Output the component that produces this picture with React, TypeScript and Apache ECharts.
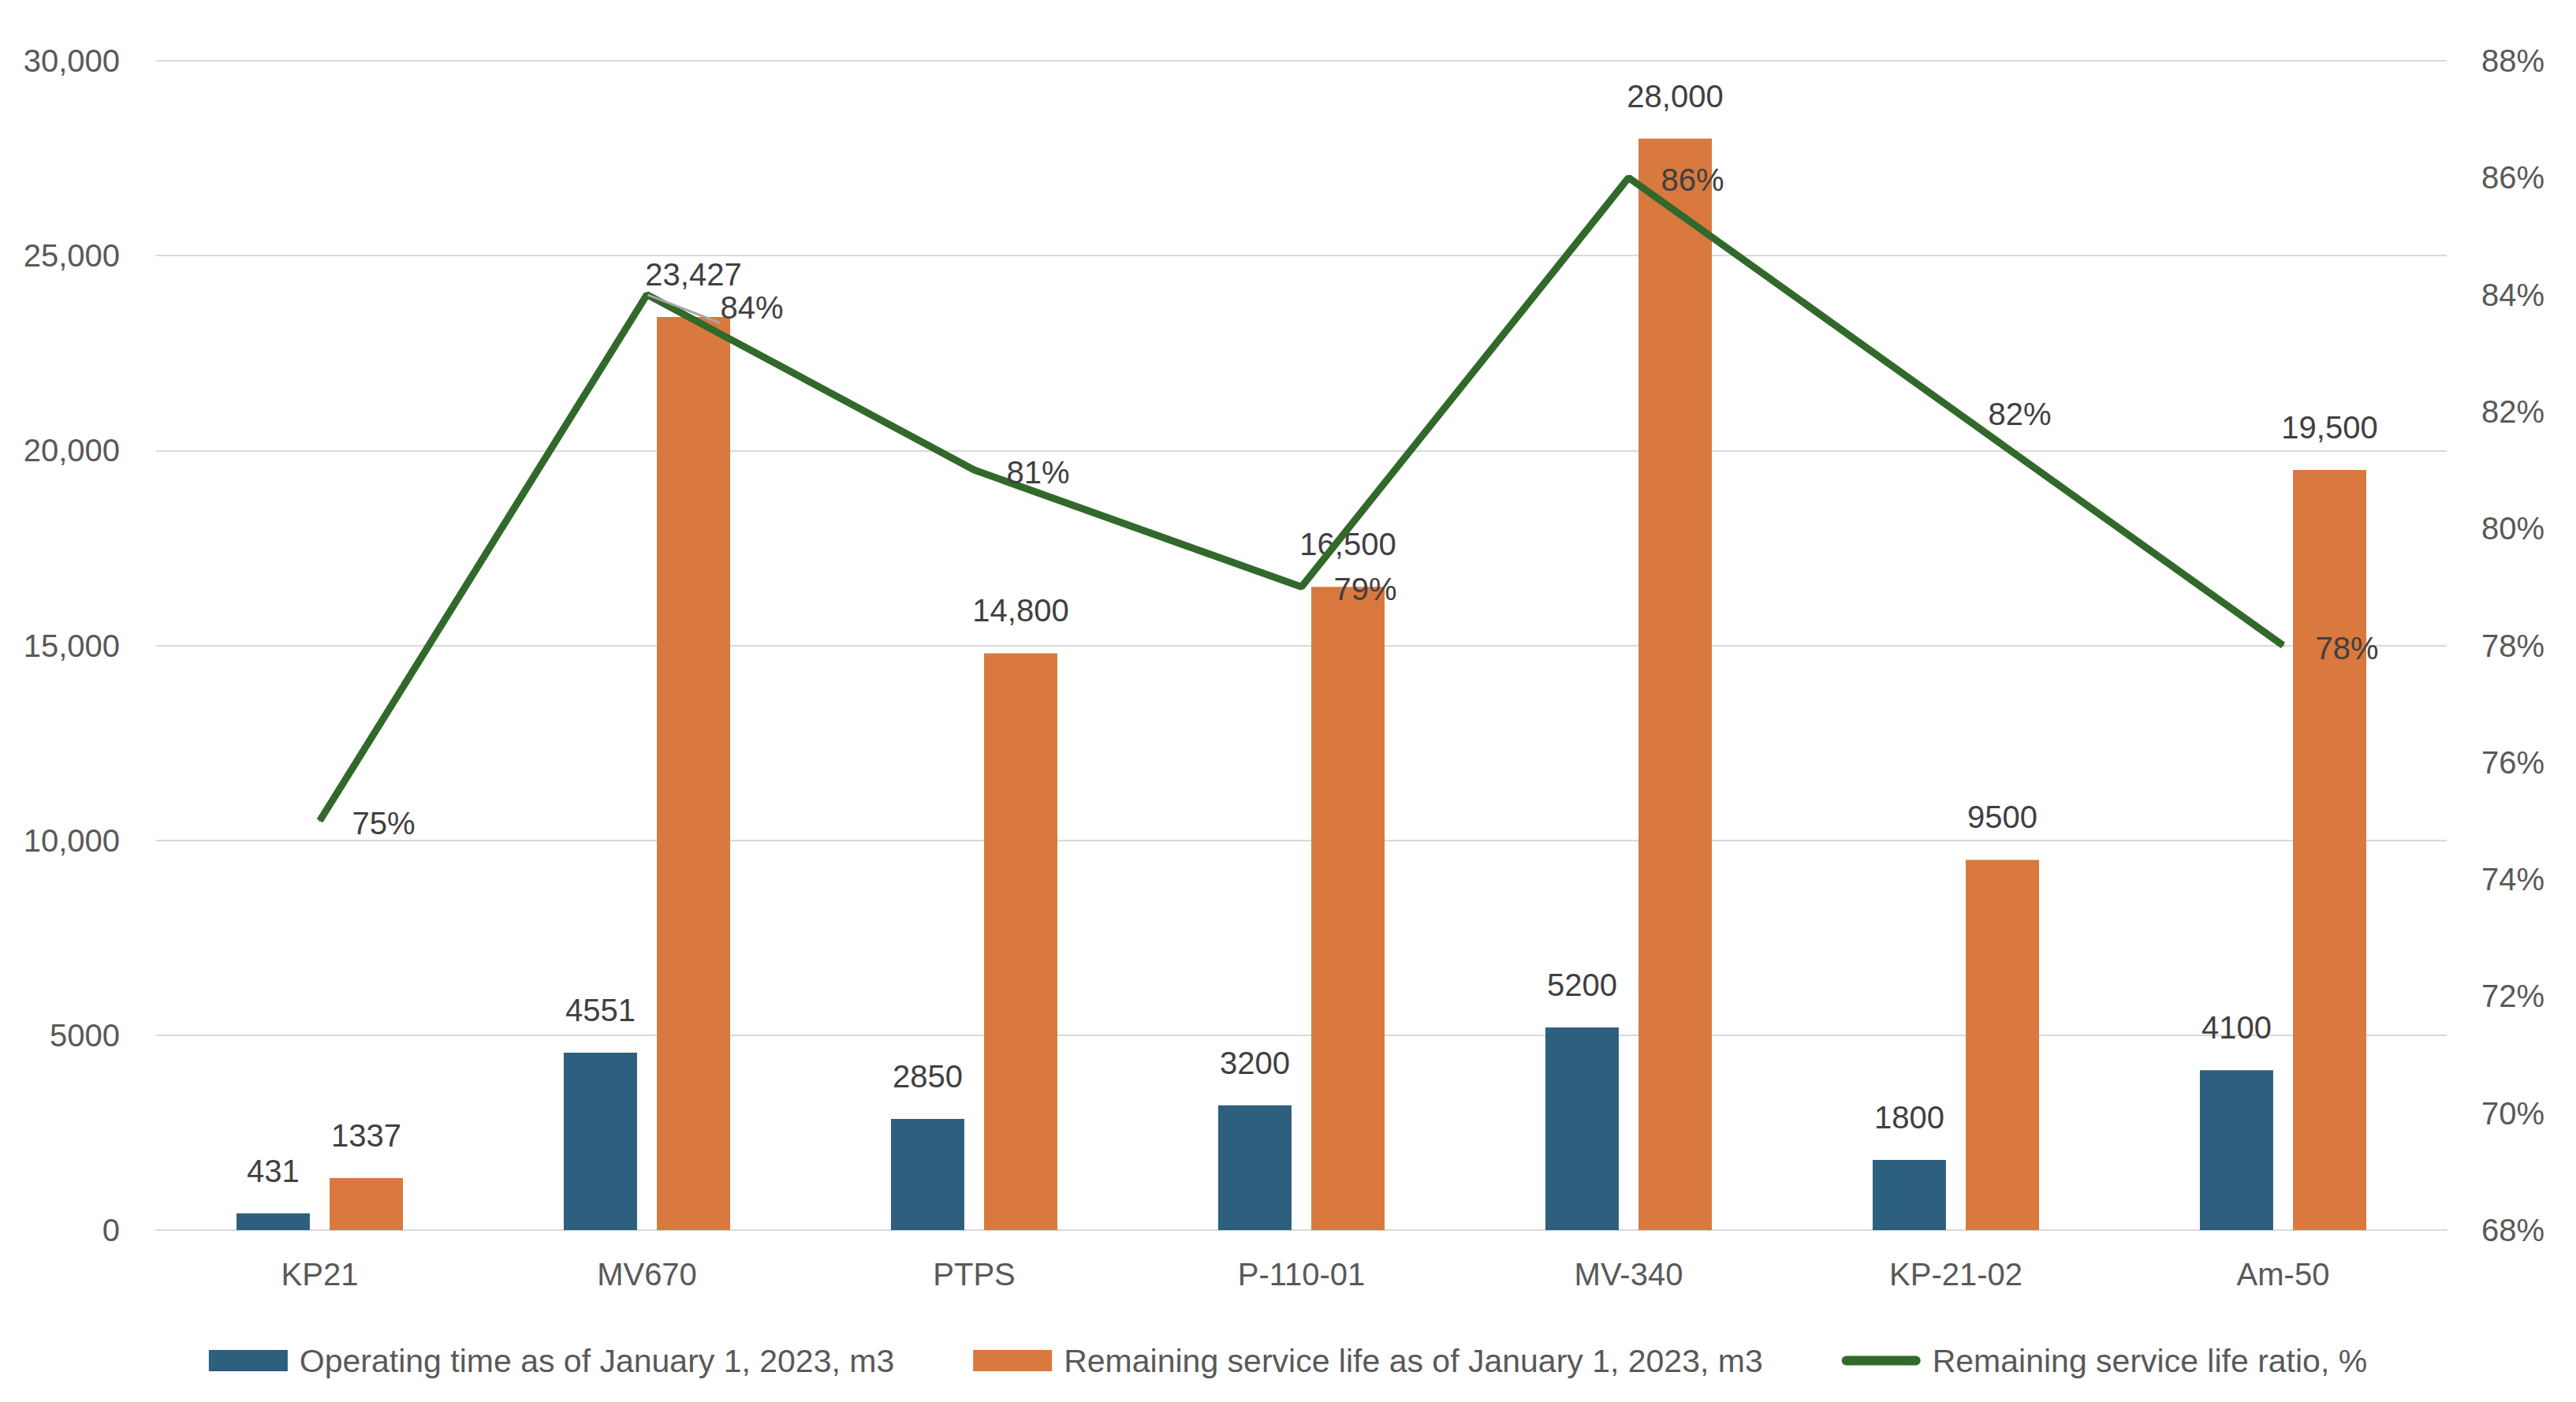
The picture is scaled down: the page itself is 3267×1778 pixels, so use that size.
import React, { useEffect, useRef } from "react";
import * as echarts from "echarts";

const categories = ["KP21", "MV670", "PTPS", "P-110-01", "MV-340", "KP-21-02", "Am-50"];
const operatingTime = [431, 4551, 2850, 3200, 5200, 1800, 4100];
const remainingLife = [1337, 23427, 14800, 16500, 28000, 9500, 19500];
const remainingRatio = [75, 84, 81, 79, 86, 82, 78];
const leftTickLabels = ["0", "5000", "10,000", "15,000", "20,000", "25,000", "30,000"];
const rightTickLabels = ["68%", "70%", "72%", "74%", "76%", "78%", "80%", "82%", "84%", "86%", "88%"];

const seriesNames = [
  "Operating time as of January 1, 2023, m3",
  "Remaining service life as of January 1, 2023, m3",
  "Remaining service life ratio, %",
];

const BLUE = "#2D5F7F";
const ORANGE = "#D9783F";
const GREEN = "#31692B";
const FONT = "'Liberation Sans', Arial, sans-serif";

const fmtNum = (v: number) => (v >= 10000 ? v.toLocaleString("en-US") : String(v));

export default function App() {
  const ref = useRef<HTMLDivElement>(null);
  useEffect(() => {
    if (!ref.current) return;
    const chart = echarts.init(ref.current, undefined, { renderer: "svg" });
    const barLabel = {
      show: true,
      position: "top",
      distance: 34,
      fontSize: 40,
      color: "#404040",
      fontFamily: FONT,
      formatter: (p: any) => fmtNum(p.value),
    };
    chart.setOption({
      animation: false,
      backgroundColor: "#ffffff",
      textStyle: { fontFamily: FONT },
      grid: { left: 198, right: 164, top: 77, bottom: 218, containLabel: false },
      legend: {
        top: 1700,
        left: "center",
        itemGap: 100,
        itemWidth: 100,
        itemHeight: 27,
        textStyle: { fontSize: 41, color: "#595959", fontFamily: FONT, padding: [0, 0, 0, 10] },
        data: [
          { name: seriesNames[0], icon: "rect" },
          { name: seriesNames[1], icon: "rect" },
          {
            name: seriesNames[2],
            icon: "path://M6,0 L94,0 A6,6 0 0 1 94,12 L6,12 A6,6 0 0 1 6,0 Z",
            itemStyle: { color: GREEN },
          },
        ],
      },
      xAxis: {
        type: "category",
        data: categories,
        axisLine: { show: true, lineStyle: { color: "#D9D9D9", width: 2 } },
        axisTick: { show: false },
        axisLabel: { fontSize: 40, color: "#595959", margin: 36, fontFamily: FONT },
      },
      yAxis: [
        {
          type: "value",
          min: 0,
          max: 30000,
          interval: 5000,
          axisLine: { show: false },
          axisTick: { show: false },
          splitLine: { lineStyle: { color: "#D9D9D9", width: 2 } },
          axisLabel: {
            fontSize: 40,
            color: "#595959",
            margin: 46,
            fontFamily: FONT,
            formatter: (v: number) => leftTickLabels[Math.round(v / 5000)],
          },
        },
        {
          type: "value",
          min: 68,
          max: 88,
          interval: 2,
          axisLine: { show: false },
          axisTick: { show: false },
          splitLine: { show: false },
          axisLabel: {
            fontSize: 40,
            color: "#595959",
            margin: 44,
            fontFamily: FONT,
            formatter: (v: number) => rightTickLabels[Math.round((v - 68) / 2)],
          },
        },
      ],
      series: [
        {
          name: seriesNames[0],
          type: "bar",
          data: operatingTime,
          barWidth: "22.4%",
          barGap: "27%",
          itemStyle: { color: BLUE },
          label: barLabel,
        },
        {
          name: seriesNames[1],
          type: "bar",
          data: remainingLife,
          barWidth: "22.4%",
          barGap: "27%",
          itemStyle: { color: ORANGE },
          label: barLabel,
        },
        {
          name: seriesNames[2],
          type: "line",
          yAxisIndex: 1,
          z: 5,
          data: remainingRatio.map((v, i) =>
            i === 1
              ? {
                  value: v,
                  label: { offset: [52, 16] },
                  labelLine: { show: true, lineStyle: { color: "#A6A6A6", width: 3 } },
                }
              : v
          ),
          symbol: "circle",
          symbolSize: 2,
          lineStyle: { color: GREEN, width: 9 },
          itemStyle: { color: GREEN },
          label: {
            show: true,
            position: "right",
            distance: 40,
            offset: [0, 3],
            fontSize: 40,
            color: "#404040",
            fontFamily: FONT,
            formatter: (p: any) => p.value + "%",
          },
        },
      ],
    });
    return () => chart.dispose();
  }, []);
  return (
    <div
      ref={ref}
      style={{ position: "absolute", left: 0, top: 0, width: 3267, height: 1778 }}
    />
  );
}
